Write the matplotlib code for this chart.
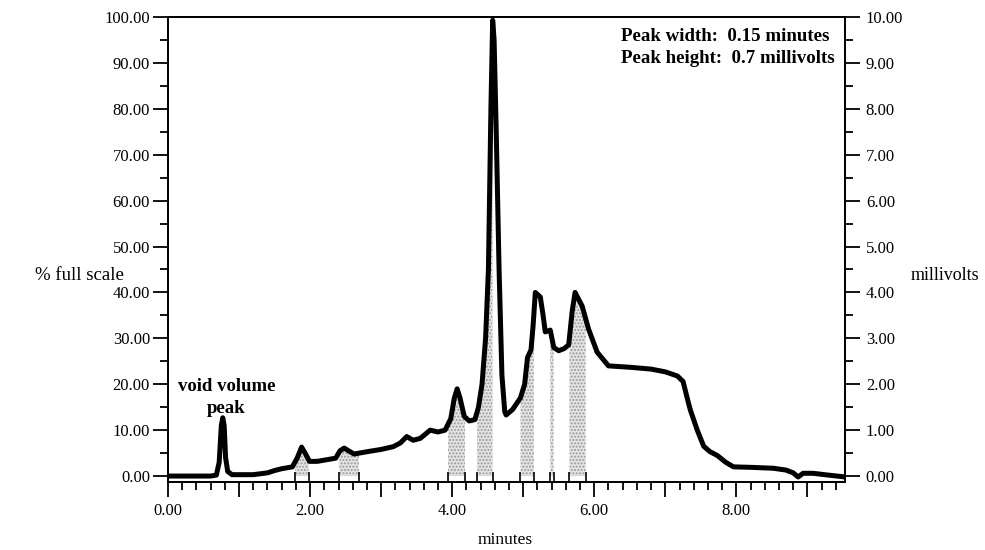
import matplotlib
matplotlib.use("Agg")
import matplotlib.pyplot as plt
import numpy as np

plt.rcParams['font.family'] = ['Liberation Serif', 'DejaVu Serif']

# chromatogram trace (minutes, % full scale)
minutes = [0.00, 0.60, 0.68, 0.72, 0.75, 0.77, 0.79, 0.81, 0.84, 0.90,
           1.20, 1.40, 1.50, 1.60, 1.75, 1.82, 1.88, 1.93, 1.99, 2.10,
           2.25, 2.36, 2.42, 2.48, 2.54, 2.62, 2.80, 3.00, 3.17, 3.27,
           3.36, 3.45, 3.55, 3.69, 3.80, 3.90, 3.98, 4.03, 4.07, 4.11,
           4.17, 4.24, 4.32, 4.37, 4.42, 4.47, 4.51, 4.545, 4.57, 4.59,
           4.62, 4.66, 4.70, 4.74, 4.76, 4.85, 4.96, 5.02, 5.06, 5.11,
           5.14, 5.17, 5.24, 5.28, 5.31, 5.38, 5.43, 5.50, 5.58, 5.64,
           5.69, 5.73, 5.78, 5.83, 5.92, 6.04, 6.20, 6.50, 6.80, 7.00,
           7.17, 7.25, 7.30, 7.35, 7.45, 7.54, 7.63, 7.73, 7.85, 7.96,
           8.20, 8.52, 8.70, 8.80, 8.87, 8.94, 9.08, 9.30, 9.53]
signal = [0.0, 0.0, 0.2, 3.0, 11.0, 12.7, 11.0, 4.0, 1.0, 0.3,
          0.3, 0.7, 1.2, 1.6, 2.0, 4.0, 6.3, 5.0, 3.2, 3.2,
          3.6, 3.9, 5.5, 6.1, 5.5, 4.8, 5.3, 5.8, 6.4, 7.2,
          8.6, 7.8, 8.2, 10.0, 9.6, 10.0, 12.5, 17.0, 19.0, 17.0,
          13.0, 12.0, 12.3, 15.0, 20.0, 30.0, 45.0, 80.0, 99.3, 95.0,
          75.0, 45.0, 22.0, 14.0, 13.3, 14.5, 17.0, 20.0, 25.8, 27.5,
          33.0, 40.0, 39.0, 35.0, 31.4, 31.8, 28.0, 27.3, 27.8, 28.6,
          36.0, 40.0, 38.5, 37.0, 32.0, 27.0, 24.0, 23.7, 23.3, 22.7,
          21.8, 20.6, 17.5, 14.5, 10.0, 6.5, 5.3, 4.5, 3.0, 2.0,
          1.9, 1.7, 1.3, 0.7, -0.2, 0.6, 0.6, 0.2, -0.2]

# integrated peak windows (start, end) in minutes
peak_windows = [(1.79, 1.98), (2.41, 2.69), (3.94, 4.18), (4.35, 4.57),
                (4.96, 5.15), (5.38, 5.43), (5.65, 5.88)]

x_labels = ['0.00', '', '2.00', '', '4.00', '', '6.00', '', '8.00', '']
left_ticks = np.arange(0, 101, 10)
right_ticks = np.arange(0, 11, 1)

fig = plt.figure(figsize=(9.85, 5.5), dpi=100)
ax = fig.add_axes([0.1706, 0.1236, 0.6873, 0.8455])

x_arr = np.array(minutes)
y_arr = np.array(signal)
fine_x = np.linspace(0, 9.53, 4000)
fine_y = np.interp(fine_x, x_arr, y_arr)

for start, end in peak_windows:
    mask = (fine_x >= start) & (fine_x <= end)
    ax.fill_between(fine_x[mask], 0, fine_y[mask], facecolor='#e4e4e4',
                    edgecolor='#9a9a9a', hatch='.....', linewidth=0, zorder=1)

ax.plot(x_arr, y_arr, color='black', linewidth=3.6, solid_joinstyle='round',
        solid_capstyle='round', zorder=3)

# window boundary marks above the time axis
bounds = [b for w in peak_windows for b in w]
ax.vlines(bounds, -1.3, 0.9, color='black', linewidth=1.2, zorder=2)

ax.set_xlim(0, 9.53)
ax.set_ylim(-1.3, 100)

ax.set_xticks(np.arange(0, 10, 1))
ax.set_xticklabels(x_labels)
ax.set_xticks(np.arange(0, 9.6, 0.2), minor=True)
ax.set_yticks(left_ticks)
ax.set_yticklabels(['%.2f' % v for v in left_ticks])
ax.set_yticks(np.arange(0, 101, 5), minor=True)

ax.tick_params(axis='both', which='major', length=11, width=1.3,
               labelsize=12, direction='out', pad=2)
ax.tick_params(axis='both', which='minor', length=5.5, width=1.3,
               direction='out')
ax.tick_params(axis='x', which='major', pad=4)

ax2 = ax.twinx()
ax2.set_ylim(-0.13, 10)
ax2.set_yticks(right_ticks)
ax2.set_yticklabels(['%.2f' % v for v in right_ticks])
ax2.set_yticks(np.arange(0, 10.1, 0.5), minor=True)
ax2.tick_params(axis='y', which='major', length=11, width=1.3,
                labelsize=12, direction='out', pad=4)
ax2.tick_params(axis='y', which='minor', length=5.5, width=1.3,
                direction='out')

for a in (ax, ax2):
    for s in a.spines.values():
        s.set_linewidth(1.3)

ax.text(0.669, 0.957, 'Peak width:  0.15 minutes', transform=ax.transAxes,
        fontsize=13.6, fontweight='bold', va='center', ha='left')
ax.text(0.669, 0.910, 'Peak height:  0.7 millivolts', transform=ax.transAxes,
        fontsize=13.6, fontweight='bold', va='center', ha='left')
ax.text(0.82, 19.6, 'void volume', fontsize=13.5, fontweight='bold',
        ha='center', va='center')
ax.text(0.82, 14.8, 'peak', fontsize=13.5, fontweight='bold',
        ha='center', va='center')

fig.text(0.081, 0.5, '% full scale', fontsize=13.5, ha='center', va='center')
fig.text(0.925, 0.5, 'millivolts', fontsize=13, ha='left', va='center')
fig.text(0.513, 0.004, 'minutes', fontsize=12.5, ha='center', va='bottom')

fig.savefig('out.png', dpi=100)
